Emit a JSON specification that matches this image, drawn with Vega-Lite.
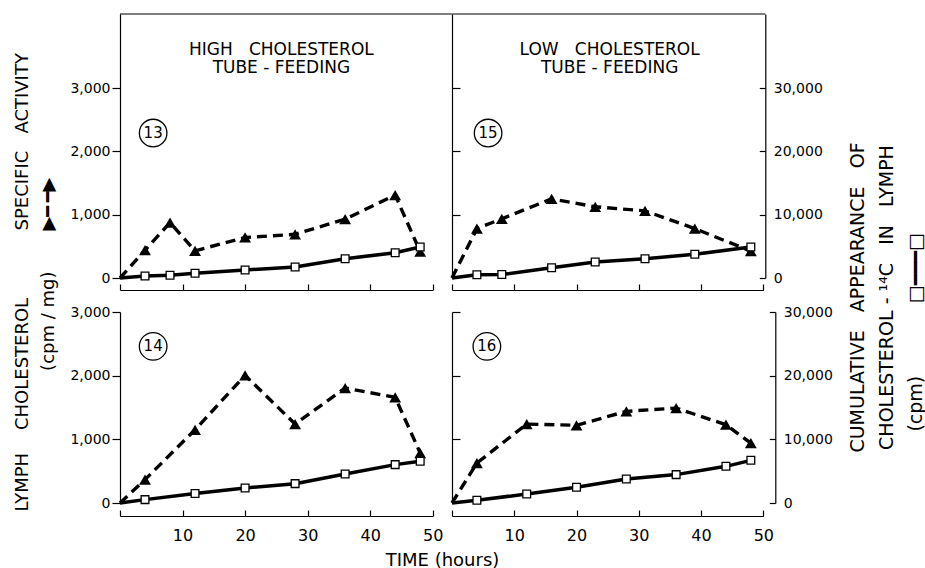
{
"$schema": "https://vega.github.io/schema/vega-lite/v6.json",
"background": "white",
"padding": {"left": 13, "top": 13, "right": 5, "bottom": 5},
"autosize": {"type": "pad"},
"datasets": {
"tri": [
{"panel":13,"t":0,"sa":0},{"panel":13,"t":4,"sa":440},{"panel":13,"t":8,"sa":875},{"panel":13,"t":12,"sa":430},{"panel":13,"t":20,"sa":640},{"panel":13,"t":28,"sa":690},{"panel":13,"t":36,"sa":930},{"panel":13,"t":44,"sa":1310},{"panel":13,"t":48,"sa":415},
{"panel":15,"t":0,"sa":0},{"panel":15,"t":4,"sa":780},{"panel":15,"t":8,"sa":935},{"panel":15,"t":16,"sa":1250},{"panel":15,"t":23,"sa":1125},{"panel":15,"t":31,"sa":1060},{"panel":15,"t":39,"sa":780},{"panel":15,"t":48,"sa":425},
{"panel":14,"t":0,"sa":0},{"panel":14,"t":4,"sa":367},{"panel":14,"t":12,"sa":1150},{"panel":14,"t":20,"sa":2005},{"panel":14,"t":28,"sa":1240},{"panel":14,"t":36,"sa":1805},{"panel":14,"t":44,"sa":1660},{"panel":14,"t":48,"sa":785},
{"panel":16,"t":0,"sa":0},{"panel":16,"t":4,"sa":628},{"panel":16,"t":12,"sa":1240},{"panel":16,"t":20,"sa":1220},{"panel":16,"t":28,"sa":1440},{"panel":16,"t":36,"sa":1490},{"panel":16,"t":44,"sa":1230},{"panel":16,"t":48,"sa":940}
],
"sq": [
{"panel":13,"t":0,"cum":0},{"panel":13,"t":4,"cum":320},{"panel":13,"t":8,"cum":420},{"panel":13,"t":12,"cum":740},{"panel":13,"t":20,"cum":1260},{"panel":13,"t":28,"cum":1740},{"panel":13,"t":36,"cum":3050},{"panel":13,"t":44,"cum":4000},{"panel":13,"t":48,"cum":4900},
{"panel":15,"t":0,"cum":0},{"panel":15,"t":4,"cum":520},{"panel":15,"t":8,"cum":540},{"panel":15,"t":16,"cum":1630},{"panel":15,"t":23,"cum":2530},{"panel":15,"t":31,"cum":3050},{"panel":15,"t":39,"cum":3740},{"panel":15,"t":48,"cum":4900},
{"panel":14,"t":0,"cum":0},{"panel":14,"t":4,"cum":530},{"panel":14,"t":12,"cum":1480},{"panel":14,"t":20,"cum":2360},{"panel":14,"t":28,"cum":3040},{"panel":14,"t":36,"cum":4560},{"panel":14,"t":44,"cum":6030},{"panel":14,"t":48,"cum":6550},
{"panel":16,"t":0,"cum":0},{"panel":16,"t":4,"cum":420},{"panel":16,"t":12,"cum":1410},{"panel":16,"t":20,"cum":2470},{"panel":16,"t":28,"cum":3770},{"panel":16,"t":36,"cum":4460},{"panel":16,"t":44,"cum":5760},{"panel":16,"t":48,"cum":6700}
],
"lab": [
{"panel":13,"t":5.3,"v":2290,"label":"13"},{"panel":15,"t":5.8,"v":2290,"label":"15"},{"panel":14,"t":5.3,"v":2460,"label":"14"},{"panel":16,"t":5.6,"v":2460,"label":"16"}
]
},
"columns": 2,
"spacing": {"row": 34, "column": 19},
"bounds": "flush",
"concat": [
{
"width": 312.7, "height": 264,
"title": {"text": ["HIGH\u00a0\u00a0\u00a0CHOLESTEROL", "TUBE\u00a0-\u00a0FEEDING"], "frame": "group", "anchor": "middle", "offset": -64, "dx": 5, "fontSize": 17, "fontWeight": "normal", "lineHeight": 18, "color": "black", "font": "DejaVu Sans"},
"layer": [
{"layer": [
{"data": {"name": "tri"}, "transform": [{"filter": "datum.panel === 13"}],
 "mark": {"type": "line", "color": "black", "strokeWidth": 3.4, "strokeDash": [10, 6]},
 "encoding": {
  "x": {"field": "t", "type": "quantitative", "scale": {"domain": [0, 50]}, "axis": {"values": [0,10,20,30,40,50], "labels": false, "title": null, "offset": 12, "tickSize": -6}},
  "y": {"field": "sa", "type": "quantitative", "scale": {"domain": [0, 4170]}, "axis": {"orient": "left", "values": [0,1000,2000,3000], "format": ",.0f", "tickSize": 8, "labelPadding": 2, "title": ["SPECIFIC\u00a0\u00a0\u00a0ACTIVITY", "▶━\u2009━▶"], "titleAngle": 270, "titleAlign": "left", "titleBaseline": "top", "titleX": -107, "titleY": 216, "titleFontSize": 18, "titleLineHeight": 26}}
 }},
{"data": {"name": "tri"}, "transform": [{"filter": "datum.panel === 13 && datum.t > 0"}],
 "mark": {"type": "point", "shape": "triangle-up", "filled": true, "color": "black", "size": 140, "opacity": 1},
 "encoding": {"x": {"field": "t", "type": "quantitative", "scale": {"domain": [0, 50]}}, "y": {"field": "sa", "type": "quantitative", "scale": {"domain": [0, 4170]}}}},
{"data": {"name": "lab"}, "transform": [{"filter": "datum.panel === 13"}],
 "mark": {"type": "point", "shape": "circle", "filled": false, "color": "black", "strokeWidth": 1.3, "size": 760, "opacity": 1},
 "encoding": {"x": {"field": "t", "type": "quantitative", "scale": {"domain": [0, 50]}}, "y": {"field": "v", "type": "quantitative", "scale": {"domain": [0, 4170]}}}},
{"data": {"name": "lab"}, "transform": [{"filter": "datum.panel === 13"}],
 "mark": {"type": "text", "fontSize": 15, "color": "black", "font": "DejaVu Sans"},
 "encoding": {"x": {"field": "t", "type": "quantitative", "scale": {"domain": [0, 50]}}, "y": {"field": "v", "type": "quantitative", "scale": {"domain": [0, 4170]}}, "text": {"field": "label"}}},
{"data": {"values": [{}]},
 "mark": {"type": "rule", "color": "black", "strokeWidth": 1.2},
 "encoding": {"x": {"datum": 0, "type": "quantitative", "scale": {"domain": [0, 50]}}, "x2": {"datum": 53.05}, "y": {"datum": 4170, "type": "quantitative", "scale": {"domain": [0, 4170]}}}}
]},
{"layer": [
{"data": {"name": "sq"}, "transform": [{"filter": "datum.panel === 13"}],
 "mark": {"type": "line", "color": "black", "strokeWidth": 3.5},
 "encoding": {"x": {"field": "t", "type": "quantitative", "scale": {"domain": [0, 50]}}, "y": {"field": "cum", "type": "quantitative", "scale": {"domain": [0, 41700]}, "axis": null}}},
{"data": {"name": "sq"}, "transform": [{"filter": "datum.panel === 13 && datum.t > 0"}],
 "mark": {"type": "point", "shape": "square", "filled": true, "fill": "white", "stroke": "black", "strokeWidth": 1.3, "size": 60, "opacity": 1},
 "encoding": {"x": {"field": "t", "type": "quantitative", "scale": {"domain": [0, 50]}}, "y": {"field": "cum", "type": "quantitative", "scale": {"domain": [0, 41700]}}}}
]}
],
"resolve": {"scale": {"y": "independent"}, "axis": {"y": "independent"}}
},
{
"width": 311.3, "height": 264,
"title": {"text": ["LOW\u00a0\u00a0\u00a0CHOLESTEROL", "TUBE\u00a0-\u00a0FEEDING"], "frame": "group", "anchor": "middle", "offset": -64, "dx": 2, "fontSize": 17, "fontWeight": "normal", "lineHeight": 18, "color": "black", "font": "DejaVu Sans"},
"layer": [
{"layer": [
{"data": {"name": "tri"}, "transform": [{"filter": "datum.panel === 15"}],
 "mark": {"type": "line", "color": "black", "strokeWidth": 3.4, "strokeDash": [10, 6]},
 "encoding": {
  "x": {"field": "t", "type": "quantitative", "scale": {"domain": [0, 50]}, "axis": {"values": [0,10,20,30,40,50], "labels": false, "title": null, "offset": 12, "tickSize": -6}},
  "y": {"field": "sa", "type": "quantitative", "scale": {"domain": [0, 4170]}, "axis": {"orient": "left", "values": [1000,2000,3000], "labels": false, "tickSize": -8, "title": null}}
 }},
{"data": {"name": "tri"}, "transform": [{"filter": "datum.panel === 15 && datum.t > 0"}],
 "mark": {"type": "point", "shape": "triangle-up", "filled": true, "color": "black", "size": 140, "opacity": 1},
 "encoding": {"x": {"field": "t", "type": "quantitative", "scale": {"domain": [0, 50]}}, "y": {"field": "sa", "type": "quantitative", "scale": {"domain": [0, 4170]}}}},
{"data": {"name": "lab"}, "transform": [{"filter": "datum.panel === 15"}],
 "mark": {"type": "point", "shape": "circle", "filled": false, "color": "black", "strokeWidth": 1.3, "size": 760, "opacity": 1},
 "encoding": {"x": {"field": "t", "type": "quantitative", "scale": {"domain": [0, 50]}}, "y": {"field": "v", "type": "quantitative", "scale": {"domain": [0, 4170]}}}},
{"data": {"name": "lab"}, "transform": [{"filter": "datum.panel === 15"}],
 "mark": {"type": "text", "fontSize": 15, "color": "black", "font": "DejaVu Sans"},
 "encoding": {"x": {"field": "t", "type": "quantitative", "scale": {"domain": [0, 50]}}, "y": {"field": "v", "type": "quantitative", "scale": {"domain": [0, 4170]}}, "text": {"field": "label"}}},
{"data": {"values": [{}]},
 "mark": {"type": "rule", "color": "black", "strokeWidth": 1.2},
 "encoding": {"x": {"datum": 0, "type": "quantitative", "scale": {"domain": [0, 50]}}, "x2": {"datum": 50.32}, "y": {"datum": 4170, "type": "quantitative", "scale": {"domain": [0, 4170]}}}}
]},
{"layer": [
{"data": {"name": "sq"}, "transform": [{"filter": "datum.panel === 15"}],
 "mark": {"type": "line", "color": "black", "strokeWidth": 3.5},
 "encoding": {"x": {"field": "t", "type": "quantitative", "scale": {"domain": [0, 50]}}, "y": {"field": "cum", "type": "quantitative", "scale": {"domain": [0, 41700]},
  "axis": {"orient": "right", "values": [0,10000,20000,30000], "format": ",.0f", "offset": 2, "tickSize": -6, "labelPadding": 14,
   "title": ["CUMULATIVE\u00a0\u00a0\u00a0APPEARANCE\u00a0\u00a0\u00a0OF", "CHOLESTEROL\u00a0-\u00a0¹⁴C\u00a0\u00a0\u00a0IN\u00a0\u00a0\u00a0LYMPH", "(cpm)\u00a0\u00a0\u00a0\u00a0\u00a0\u00a0\u00a0\u00a0\u00a0\u00a0\u00a0\u00a0□━━━□\u2800\u2800\u2800\u2800\u2800"],
   "titleAngle": 270, "titleAlign": "center", "titleBaseline": "top", "titleX": 83, "titleY": 283, "titleFontSize": 19, "titleLineHeight": 29}}}},
{"data": {"name": "sq"}, "transform": [{"filter": "datum.panel === 15 && datum.t > 0"}],
 "mark": {"type": "point", "shape": "square", "filled": true, "fill": "white", "stroke": "black", "strokeWidth": 1.3, "size": 60, "opacity": 1},
 "encoding": {"x": {"field": "t", "type": "quantitative", "scale": {"domain": [0, 50]}}, "y": {"field": "cum", "type": "quantitative", "scale": {"domain": [0, 41700]}}}}
]}
],
"resolve": {"scale": {"y": "independent"}, "axis": {"y": "independent"}}
},
{
"width": 312.7, "height": 191,
"layer": [
{"layer": [
{"data": {"name": "tri"}, "transform": [{"filter": "datum.panel === 14"}],
 "mark": {"type": "line", "color": "black", "strokeWidth": 3.4, "strokeDash": [10, 6]},
 "encoding": {
  "x": {"field": "t", "type": "quantitative", "scale": {"domain": [0, 50]}, "axis": {"values": [0,10,20,30,40,50], "labelExpr": "datum.value === 0 ? '' : datum.label", "labelFontSize": 16, "labelPadding": 17, "offset": 13, "tickSize": -6,
   "title": "TIME (hours)", "titleX": 322, "titleY": 35, "titleAlign": "center", "titleBaseline": "top", "titleFontSize": 18}},
  "y": {"field": "sa", "type": "quantitative", "scale": {"domain": [0, 3000]}, "axis": {"orient": "left", "values": [0,1000,2000,3000], "format": ",.0f", "tickSize": 8, "labelPadding": 2,
   "title": ["LYMPH\u00a0\u00a0\u00a0\u00a0CHOLESTEROL\u2800\u2800", "(cpm\u00a0/\u00a0mg)"], "titleAngle": 270, "titleAlign": "right", "titleBaseline": "top", "titleX": -107, "titleY": -41, "titleFontSize": 18, "titleLineHeight": 26}}
 }},
{"data": {"name": "tri"}, "transform": [{"filter": "datum.panel === 14 && datum.t > 0"}],
 "mark": {"type": "point", "shape": "triangle-up", "filled": true, "color": "black", "size": 140, "opacity": 1},
 "encoding": {"x": {"field": "t", "type": "quantitative", "scale": {"domain": [0, 50]}}, "y": {"field": "sa", "type": "quantitative", "scale": {"domain": [0, 3000]}}}},
{"data": {"name": "lab"}, "transform": [{"filter": "datum.panel === 14"}],
 "mark": {"type": "point", "shape": "circle", "filled": false, "color": "black", "strokeWidth": 1.3, "size": 760, "opacity": 1},
 "encoding": {"x": {"field": "t", "type": "quantitative", "scale": {"domain": [0, 50]}}, "y": {"field": "v", "type": "quantitative", "scale": {"domain": [0, 3000]}}}},
{"data": {"name": "lab"}, "transform": [{"filter": "datum.panel === 14"}],
 "mark": {"type": "text", "fontSize": 15, "color": "black", "font": "DejaVu Sans"},
 "encoding": {"x": {"field": "t", "type": "quantitative", "scale": {"domain": [0, 50]}}, "y": {"field": "v", "type": "quantitative", "scale": {"domain": [0, 3000]}}, "text": {"field": "label"}}}
]},
{"layer": [
{"data": {"name": "sq"}, "transform": [{"filter": "datum.panel === 14"}],
 "mark": {"type": "line", "color": "black", "strokeWidth": 3.5},
 "encoding": {"x": {"field": "t", "type": "quantitative", "scale": {"domain": [0, 50]}}, "y": {"field": "cum", "type": "quantitative", "scale": {"domain": [0, 30000]}, "axis": null}}},
{"data": {"name": "sq"}, "transform": [{"filter": "datum.panel === 14 && datum.t > 0"}],
 "mark": {"type": "point", "shape": "square", "filled": true, "fill": "white", "stroke": "black", "strokeWidth": 1.3, "size": 60, "opacity": 1},
 "encoding": {"x": {"field": "t", "type": "quantitative", "scale": {"domain": [0, 50]}}, "y": {"field": "cum", "type": "quantitative", "scale": {"domain": [0, 30000]}}}}
]}
],
"resolve": {"scale": {"y": "independent"}, "axis": {"y": "independent"}}
},
{
"width": 311.3, "height": 191,
"layer": [
{"layer": [
{"data": {"name": "tri"}, "transform": [{"filter": "datum.panel === 16"}],
 "mark": {"type": "line", "color": "black", "strokeWidth": 3.4, "strokeDash": [10, 6]},
 "encoding": {
  "x": {"field": "t", "type": "quantitative", "scale": {"domain": [0, 50]}, "axis": {"values": [0,10,20,30,40,50], "labelExpr": "datum.value === 0 ? '' : datum.label", "labelFontSize": 16, "labelPadding": 17, "offset": 13, "tickSize": -6, "title": null}},
  "y": {"field": "sa", "type": "quantitative", "scale": {"domain": [0, 3000]}, "axis": {"orient": "left", "values": [1000,2000,3000], "labels": false, "tickSize": -8, "title": null}}
 }},
{"data": {"name": "tri"}, "transform": [{"filter": "datum.panel === 16 && datum.t > 0"}],
 "mark": {"type": "point", "shape": "triangle-up", "filled": true, "color": "black", "size": 140, "opacity": 1},
 "encoding": {"x": {"field": "t", "type": "quantitative", "scale": {"domain": [0, 50]}}, "y": {"field": "sa", "type": "quantitative", "scale": {"domain": [0, 3000]}}}},
{"data": {"name": "lab"}, "transform": [{"filter": "datum.panel === 16"}],
 "mark": {"type": "point", "shape": "circle", "filled": false, "color": "black", "strokeWidth": 1.3, "size": 760, "opacity": 1},
 "encoding": {"x": {"field": "t", "type": "quantitative", "scale": {"domain": [0, 50]}}, "y": {"field": "v", "type": "quantitative", "scale": {"domain": [0, 3000]}}}},
{"data": {"name": "lab"}, "transform": [{"filter": "datum.panel === 16"}],
 "mark": {"type": "text", "fontSize": 15, "color": "black", "font": "DejaVu Sans"},
 "encoding": {"x": {"field": "t", "type": "quantitative", "scale": {"domain": [0, 50]}}, "y": {"field": "v", "type": "quantitative", "scale": {"domain": [0, 3000]}}, "text": {"field": "label"}}}
]},
{"layer": [
{"data": {"name": "sq"}, "transform": [{"filter": "datum.panel === 16"}],
 "mark": {"type": "line", "color": "black", "strokeWidth": 3.5},
 "encoding": {"x": {"field": "t", "type": "quantitative", "scale": {"domain": [0, 50]}}, "y": {"field": "cum", "type": "quantitative", "scale": {"domain": [0, 30000]},
  "axis": {"orient": "right", "values": [0,10000,20000,30000], "format": ",.0f", "offset": 12, "tickSize": -6, "labelPadding": 14, "title": null}}}},
{"data": {"name": "sq"}, "transform": [{"filter": "datum.panel === 16 && datum.t > 0"}],
 "mark": {"type": "point", "shape": "square", "filled": true, "fill": "white", "stroke": "black", "strokeWidth": 1.3, "size": 60, "opacity": 1},
 "encoding": {"x": {"field": "t", "type": "quantitative", "scale": {"domain": [0, 50]}}, "y": {"field": "cum", "type": "quantitative", "scale": {"domain": [0, 30000]}}}}
]}
],
"resolve": {"scale": {"y": "independent"}, "axis": {"y": "independent"}}
}
],
"config": {
"view": {"stroke": null},
"font": "DejaVu Sans",
"axis": {"grid": false, "domainColor": "black", "domainWidth": 1.2, "tickColor": "black", "tickWidth": 1.2, "labelColor": "black", "titleColor": "black", "labelFont": "DejaVu Sans", "titleFont": "DejaVu Sans", "titleFontWeight": "normal", "labelFontSize": 14, "labelFlush": false, "labelOverlap": false}
}
}
